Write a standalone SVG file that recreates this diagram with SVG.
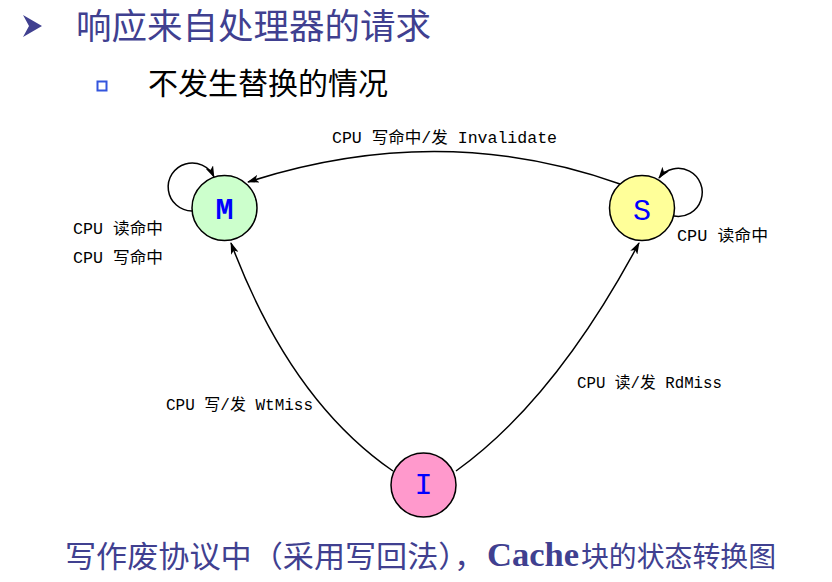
<svg xmlns="http://www.w3.org/2000/svg" width="832" height="582" viewBox="0 0 832 582">
<style>
.title{font-family:"Noto Sans CJK SC","Liberation Sans",sans-serif;fill:#404090}
.lbl{font-family:"Liberation Mono","Noto Sans CJK SC",monospace;font-size:16px;fill:#000}
.node{stroke:#000;stroke-width:1.5}
.ltr{font-family:"Liberation Mono","Liberation Serif",monospace;font-size:30px;fill:#0000ff;text-anchor:middle}
.edge{fill:none;stroke:#000;stroke-width:1.5;marker-end:url(#arr)}
</style>
<defs>
<marker id="arr" viewBox="0 0 12 8" refX="11" refY="4" markerWidth="12" markerHeight="8" markerUnits="userSpaceOnUse" orient="auto">
<path d="M0,0 L12,4 L0,8 L3,4 Z" fill="#000"/>
</marker>
</defs>
<rect width="832" height="582" fill="#fff"/>
<g id="header">
<polygon points="23,15 42,26 23,37 29,26" fill="#404090"/>
<text class="title" x="76" y="39" font-size="35" textLength="355" lengthAdjust="spacingAndGlyphs">响应来自处理器的请求</text>
<rect x="97.5" y="81.5" width="9" height="9" fill="#fff" stroke="#3355dd" stroke-width="2"/>
<text x="148" y="94" font-family="'Noto Sans CJK SC',sans-serif" font-size="30" fill="#000" textLength="240" lengthAdjust="spacingAndGlyphs">不发生替换的情况</text>
</g>
<g id="connectors">
<path class="edge" d="M620,184 Q440,120 248,182"/>
<path class="edge" d="M393,471 Q290,400 231,243"/>
<path class="edge" d="M456,471 Q555,400 639,243"/>
<path class="edge" d="M192,211 A24,24 0 1 1 214,177"/>
<path class="edge" d="M674,216 A24,24 0 1 0 659,178"/>
</g>
<g id="labels">
<text class="lbl" x="332" y="143" textLength="225" lengthAdjust="spacingAndGlyphs">CPU 写命中/发 Invalidate</text>
<text class="lbl" x="73" y="234" textLength="90" lengthAdjust="spacingAndGlyphs">CPU 读命中</text>
<text class="lbl" x="73" y="263" textLength="90" lengthAdjust="spacingAndGlyphs">CPU 写命中</text>
<text class="lbl" x="677" y="241" textLength="91" lengthAdjust="spacingAndGlyphs">CPU 读命中</text>
<text class="lbl" x="166" y="410" textLength="147" lengthAdjust="spacingAndGlyphs">CPU 写/发 WtMiss</text>
<text class="lbl" x="577" y="388" textLength="145" lengthAdjust="spacingAndGlyphs">CPU 读/发 RdMiss</text>
</g>
<g id="node-M">
<circle class="node" cx="224.5" cy="208" r="32.5" fill="#ccffcc"/>
<text class="ltr" x="224.5" y="219" font-weight="bold">M</text>
</g>
<g id="node-S">
<circle class="node" cx="642" cy="208" r="32.5" fill="#ffff99"/>
<text class="ltr" x="642" y="220">S</text>
</g>
<g id="node-I">
<ellipse class="node" cx="423.5" cy="485" rx="32.5" ry="32" fill="#ff99cc"/>
<text class="ltr" x="423.5" y="494">I</text>
</g>
<g id="caption">
<text class="title" x="65" y="567" font-size="30" textLength="420" lengthAdjust="spacingAndGlyphs">写作废协议中（采用写回法），</text>
<text x="487" y="566" font-family="'Liberation Serif',serif" font-weight="bold" font-size="33" fill="#404090" textLength="92" lengthAdjust="spacingAndGlyphs">Cache</text>
<text class="title" x="581" y="567" font-size="28" textLength="195" lengthAdjust="spacingAndGlyphs">块的状态转换图</text>
</g>
</svg>
